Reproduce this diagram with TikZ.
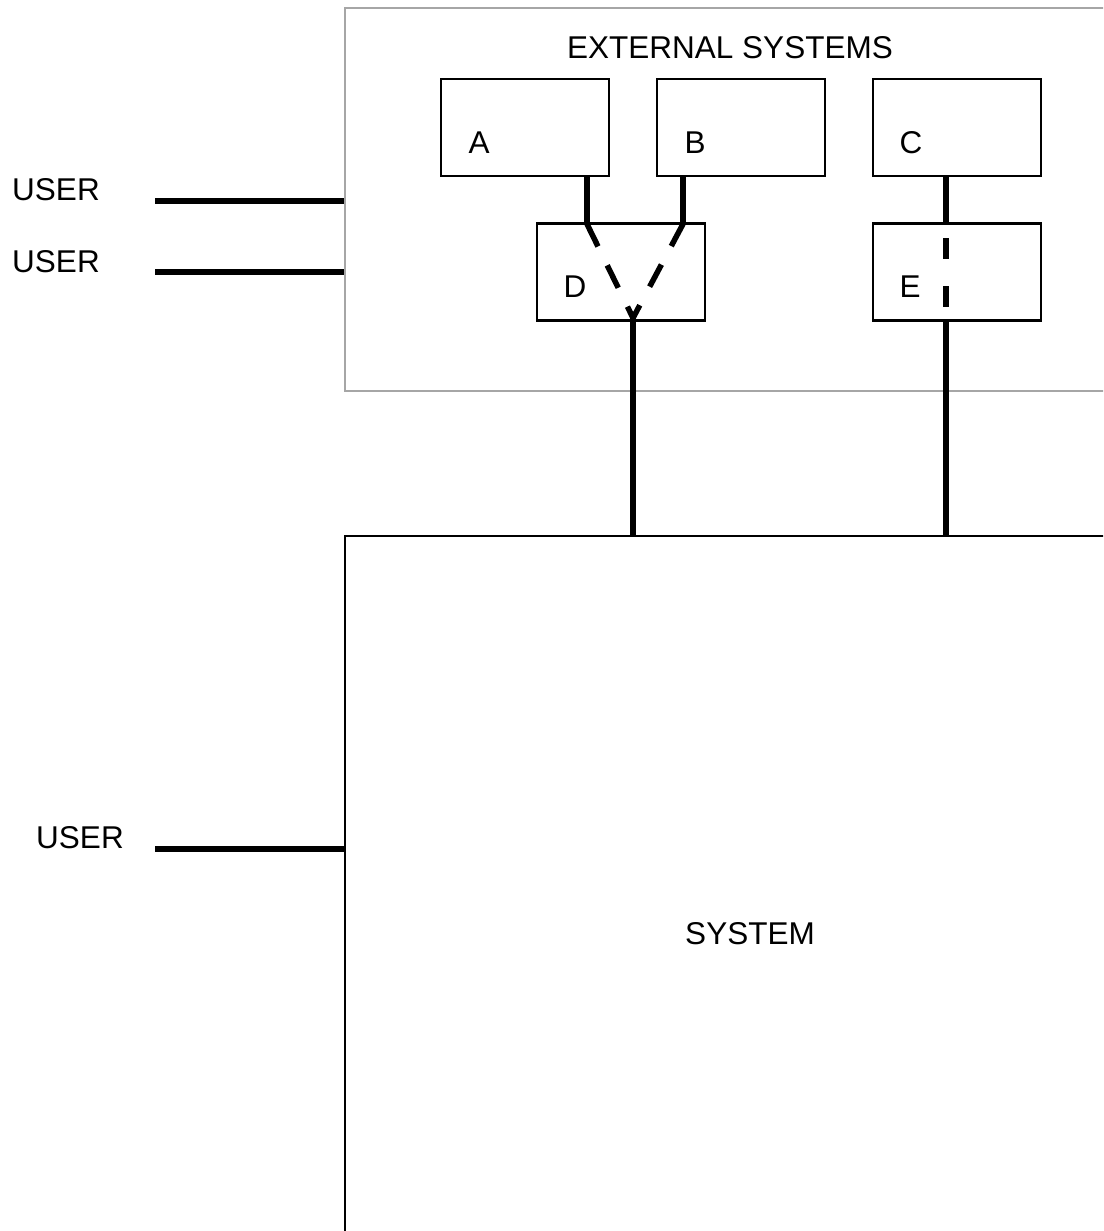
\documentclass[tikz,border=0pt]{standalone}
\usepackage{fontspec}
\setmainfont{Liberation Sans}
\begin{document}
\begin{tikzpicture}[x=1pt,y=-1pt,
  box/.style={draw=black,line width=2.5pt,rectangle,inner sep=0pt,minimum width=168pt,minimum height=97pt},
  txt/.style={font=\fontsize{31.5}{36}\selectfont,inner sep=0pt},
  wire/.style={line width=5.5pt},
  dwire/.style={line width=5.5pt,dash pattern=on 25pt off 21pt},
  ewire/.style={line width=5.5pt,dash pattern=on 21pt off 27pt,dash phase=34pt}]
\clip (0,0) rectangle (1103,1231);
\fill[white] (0,0) rectangle (1103,1231);
% external systems frame
\node[draw={rgb,255:red,166;green,166;blue,166},line width=2.7pt,inner sep=0pt,minimum width=770pt,minimum height=383pt] (ext) at (730,199.5) {};
\node[txt] (exttitle) at (730,48) {EXTERNAL SYSTEMS};
% system
\node[draw=black,line width=2.8pt,inner sep=0pt,minimum width=810pt,minimum height=796pt,font=\fontsize{31.5}{36}\selectfont] (sys) at (750,934) {SYSTEM};
% boxes
\node[box] (A) at (525,127.5) {};
\node[box] (B) at (741,127.5) {};
\node[box] (C) at (957,127.5) {};
\node[box] (D) at (621,272) {};
\node[box] (E) at (957,272) {};
\node[txt] (Al) at (479,143) {A};
\node[txt] (Bl) at (695,143) {B};
\node[txt] (Cl) at (911,143) {C};
\node[txt] (Dl) at (575,287) {D};
\node[txt] (El) at (910,287) {E};
% users
\node[txt] (u1) at (56,190) {USER};
\node[txt] (u2) at (56,262) {USER};
\node[txt] (u3) at (80,838) {USER};
\coordinate (u1s) at (155,201);
\coordinate (u2s) at (155,272);
\coordinate (u3s) at (155,849);
\draw[wire] (u1s) -- (u1s -| ext.west);
\draw[wire] (u2s) -- (u2s -| ext.west);
\draw[wire] (u3s) -- (u3s -| sys.west);
% A,B -> D
\coordinate (aD) at (587,224);
\coordinate (bD) at (683,224);
\coordinate (mD) at (633,318);
\draw[wire] (aD |- A.south) -- (aD);
\draw[wire] (bD |- B.south) -- (bD);
\draw[dwire] (aD) -- (mD);
\draw[dwire] (bD) -- (mD);
\draw[wire] (mD) -- (mD |- sys.north);
% C -> E
\coordinate (cE) at (946,224);
\coordinate (cE2) at (946,320);
\draw[wire] (cE |- C.south) -- (cE);
\draw[ewire] (cE) -- (cE2);
\draw[wire] (cE2) -- (cE2 |- sys.north);
\end{tikzpicture}
\end{document}
